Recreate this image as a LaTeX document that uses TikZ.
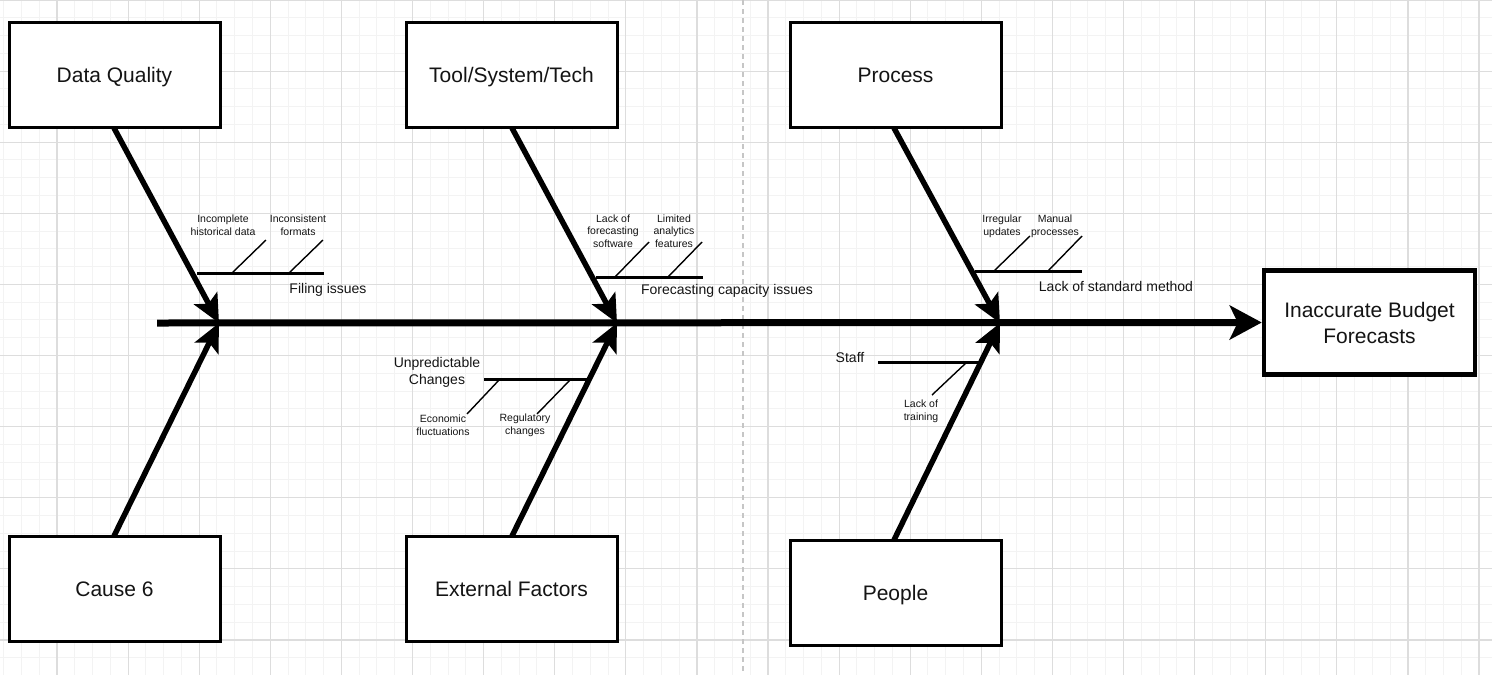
\documentclass[tikz,border=0pt]{standalone}
\usepackage{fontspec}
\setmainfont{Liberation Sans}
\usetikzlibrary{arrows.meta}
\definecolor{gridminor}{HTML}{F3F3F3}
\definecolor{gridmajor}{HTML}{DDDDDD}
\definecolor{ink}{HTML}{141414}
\tikzset{
  causebox/.style={draw=black, line width=3pt, fill=white, minimum width=211pt, minimum height=105pt, inner sep=0pt, text height=15pt, text depth=0pt, font=\fontsize{21}{25}\selectfont, text=ink},
  effectbox/.style={draw=black, line width=4.5pt, fill=white, minimum width=211pt, minimum height=104pt, inner sep=0pt, align=center, font=\fontsize{21}{26}\selectfont, text=ink},
  spine/.style={line width=7pt, -{Stealth[length=32pt, width=34pt, inset=8pt]}},
  bone/.style={line width=5.5pt, -{Stealth[length=28pt, width=26pt, inset=6pt]}},
  sub/.style={line width=3pt},
  twig/.style={line width=1.4pt},
  midlbl/.style={font=\fontsize{14}{17}\selectfont, text=ink, inner sep=0pt, align=center},
  smalllbl/.style={font=\fontsize{10.5}{12.6}\selectfont, text=ink, inner sep=0pt, align=center},
  minorline/.style={draw=gridminor, line width=1pt},
  majorline/.style={draw=gridmajor, line width=1.2pt},
}
\begin{document}
\begin{tikzpicture}[x=1pt, y=-1pt]
\useasboundingbox (0,0) rectangle (1492,675);
\fill[white] (0,0) rectangle (1492,675);
% grid
\foreach \i in {-3,...,81} {\draw[minorline] ({57+\i*17.775},0) -- ({57+\i*17.775},675);}
\foreach \i in {0,...,38} {\draw[minorline] (0,{\i*17.775}) -- (1492,{\i*17.775});}
\foreach \i in {-1,...,20} {\draw[majorline] ({57+\i*71.1},0) -- ({57+\i*71.1},675);}
\foreach \i in {0,...,9} {\draw[majorline] (0,{\i*71.1}) -- (1492,{\i*71.1});}
% page break line
\draw[draw=gray!45, line width=1.2pt, dash pattern=on 5pt off 4pt] (743,0) -- (743,675);

% cause boxes
\node[causebox] (dq) at (114.5,74.5) {Data Quality};
\node[causebox] (tool) at (511.5,74.5) {Tool/System/Tech};
\node[causebox] (proc) at (895.5,74.5) {Process};
\node[causebox] (c6) at (114.5,589) {Cause 6};
\node[causebox] (ext) at (511.5,589) {External Factors};
\node[causebox] (ppl) at (895.5,593) {People};
\node[effectbox] (eff) at (1369.5,322.5) {Inaccurate Budget\\Forecasts};

% spine joints
\coordinate (start) at (157,323);
\coordinate (j1) at (219,323);
\coordinate (j2) at (617,323);
\coordinate (j3) at (1000,323);

\draw[spine] (start) -- (eff.west);
\draw[bone] (114,128) -- (j1);
\draw[bone] (114,536) -- (j1);
\draw[bone] (512,128) -- (j2);
\draw[bone] (512,536) -- (j2);
\draw[bone] (894,128) -- (j3);
\draw[bone] (894,540) -- (j3);

% Data Quality sub-bone
\draw[sub] (197,273) -- (324,273);
\draw[twig] (232,273) -- (266,240);
\draw[twig] (289,273) -- (323,240);
\node[smalllbl] (dq1) at (223,225) {Incomplete\\historical data};
\node[smalllbl] (dq2) at (298,225) {Inconsistent\\formats};
\node[midlbl] (dqs) at (328,290) {Filing issues};

% Tool sub-bone
\draw[sub] (596,277) -- (703,277);
\draw[twig] (615,277) -- (649,242);
\draw[twig] (668,277) -- (702,242);
\node[smalllbl] (t1) at (613,231) {Lack of\\forecasting\\software};
\node[smalllbl] (t2) at (674,231) {Limited\\analytics\\features};
\node[midlbl] (ts) at (727,291) {Forecasting capacity issues};

% Process sub-bone
\draw[sub] (975,271) -- (1082,271);
\draw[twig] (994,271) -- (1030,236);
\draw[twig] (1048,271) -- (1082,236);
\node[smalllbl] (p1) at (1002,226) {Irregular\\updates};
\node[smalllbl] (p2) at (1055,226) {Manual\\processes};
\node[midlbl] (ps) at (1116,286) {Lack of standard method};

% External sub-bone
\draw[sub] (484,379) -- (588,379);
\draw[twig] (500,379) -- (467,414);
\draw[twig] (571,379) -- (537,414);
\node[midlbl] (es) at (437,372) {Unpredictable\\Changes};
\node[smalllbl] (e1) at (443,425) {Economic\\fluctuations};
\node[smalllbl] (e2) at (525,425) {Regulatory\\changes};

% People sub-bone
\draw[sub] (878,362) -- (982,362);
\draw[twig] (967,362) -- (932,395);
\node[midlbl] (st) at (850,357) {Staff};
\node[smalllbl] (s1) at (921,411) {Lack of\\training};
\end{tikzpicture}
\end{document}
